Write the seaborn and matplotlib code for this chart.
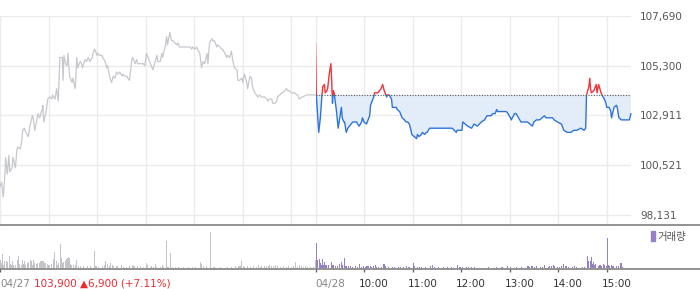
import numpy as np
import pandas as pd
import matplotlib
matplotlib.use("Agg")
import matplotlib.pyplot as plt
import seaborn as sns
from matplotlib.patches import Rectangle, Patch
from matplotlib.lines import Line2D
import matplotlib.transforms as mtransforms

# ---------------- data ----------------
prev_close = 103900
close_change = 6900
close_pct = 7.11

# 04/27 session: minutes since 09:00, price
day1_min = [0, 2, 4, 6, 7, 9, 11, 12, 15, 16, 19, 21, 22, 25, 27, 28, 30, 32, 35, 37,
            40, 41, 43, 46, 47, 49, 52, 53, 54, 57, 59, 62, 64, 65, 68, 70, 72, 73, 74, 77,
            78, 79, 81, 83, 84, 86, 89, 90, 93, 95, 96, 99, 101, 102, 105, 107, 109, 111, 114, 115,
            117, 120, 121, 123, 126, 127, 130, 132, 133, 136, 138, 140, 142, 144, 146, 148, 151, 152, 154, 157,
            158, 160, 163, 164, 167, 169, 170, 173, 177, 179, 181, 183, 185, 188, 189, 191, 194, 195, 198, 200,
            201, 204, 206, 207, 210, 212, 214, 216, 219, 220, 222, 225, 226, 228, 231, 232, 235, 237, 238, 241,
            243, 244, 247, 249, 251, 253, 256, 257, 259, 262, 263, 265, 268, 269, 272, 274, 275, 278, 280, 281,
            284, 286, 288, 290, 293, 294, 296, 299, 300, 302, 305, 306, 309, 311, 312, 315, 317, 319, 321, 323,
            325, 327, 330, 331, 333, 336, 337, 340, 342, 343, 346, 348, 349, 352, 354, 356, 358, 360, 362, 364,
            367, 368, 370, 373, 374, 379, 383, 390]
day1_price = [99500, 99700, 99000, 100000, 100900, 100100, 101000, 100200, 100400, 100900, 100400, 101300, 101400, 101300, 101700, 102200, 102300, 102100, 101900, 102400,
              102900, 102800, 102200, 102800, 103000, 102800, 103200, 103400, 102600, 103100, 103700, 103800, 103700, 103900, 103700, 104200, 103600, 104600, 105700, 105700,
              104600, 105800, 105400, 105300, 105900, 104800, 104500, 104700, 104200, 105700, 105200, 105500, 105400, 105200, 105600, 105500, 105700, 105500, 105700, 105900,
              106100, 105800, 105900, 105800, 105800, 105700, 105500, 105200, 105300, 104700, 104500, 104800, 104700, 105000, 104900, 105000, 104800, 104900, 104800, 104800,
              104700, 104600, 105600, 105700, 105400, 105600, 105400, 105400, 105400, 105300, 105900, 105700, 105500, 105200, 105100, 105400, 105800, 105500, 105500, 105900,
              105700, 106200, 106700, 106300, 106900, 106500, 106500, 106400, 106300, 106400, 106200, 106200, 106200, 106200, 106200, 106200, 106200, 106100, 106200, 106100,
              106200, 106100, 105900, 105200, 105500, 105400, 105900, 105400, 106400, 106600, 106500, 106500, 106200, 106300, 106200, 106100, 106100, 105900, 105700, 105800,
              105700, 106000, 105500, 105200, 105100, 104600, 104600, 104700, 104500, 104900, 104500, 104200, 104800, 104700, 104300, 104000, 103900, 103800, 103900, 103800,
              103800, 103800, 103700, 103600, 103700, 103700, 103500, 103500, 103600, 103800, 103900, 104000, 104000, 104100, 104200, 104100, 104100, 104000, 104000, 104000,
              103900, 103900, 103700, 103800, 103800, 103900, 103900, 103900]

# 04/28 session: minutes since 09:00, price
day2_min = [0, 1, 4, 6, 8, 9, 11, 12, 14, 15, 17, 19, 20, 21, 22, 23, 25, 26, 28, 30,
            32, 33, 35, 36, 38, 40, 42, 44, 46, 48, 51, 52, 54, 57, 58, 60, 63, 64, 67, 68,
            70, 72, 73, 75, 77, 79, 81, 83, 85, 88, 89, 91, 94, 95, 98, 100, 101, 104, 106, 107,
            110, 112, 114, 116, 118, 119, 122, 125, 126, 128, 131, 132, 135, 137, 138, 141, 145, 149, 153, 157,
            159, 162, 166, 169, 174, 175, 181, 182, 185, 188, 193, 196, 200, 205, 209, 212, 217, 219, 222, 224,
            225, 227, 231, 236, 238, 241, 242, 246, 248, 251, 254, 258, 262, 265, 268, 270, 273, 277, 280, 283,
            285, 289, 293, 295, 299, 304, 307, 311, 316, 319, 323, 328, 332, 334, 335, 338, 339, 340, 341, 344,
            347, 348, 350, 353, 354, 357, 359, 360, 363, 365, 366, 369, 372, 373, 375, 378, 379, 384, 388, 390]
day2_price = [106400, 103900, 102100, 102800, 103900, 104300, 104400, 104000, 104100, 104200, 104900, 105400, 104600, 103500, 104100, 104000, 103400, 103100, 102300, 102800,
              103300, 102800, 102600, 102600, 102100, 102300, 102400, 102500, 102600, 102600, 102600, 102500, 102400, 102600, 102800, 102600, 102500, 102600, 102900, 103400,
              103600, 103800, 104000, 104000, 104000, 104100, 104200, 104400, 104100, 103800, 103900, 103900, 103700, 103300, 103300, 103300, 103200, 103100, 102900, 102800,
              102700, 102600, 102600, 102500, 102200, 102000, 101900, 101800, 102000, 101900, 102000, 102100, 102000, 102100, 102100, 102300, 102300, 102300, 102300, 102300,
              102300, 102300, 102300, 102300, 102100, 102200, 102200, 102600, 102500, 102400, 102300, 102500, 102400, 102600, 102700, 102900, 102900, 103000, 103000, 103200,
              103100, 103100, 103100, 103100, 103000, 102800, 102700, 103000, 103000, 102800, 102600, 102600, 102600, 102500, 102400, 102600, 102700, 102700, 102800, 102900,
              102800, 102800, 102800, 102700, 102600, 102500, 102200, 102100, 102100, 102200, 102200, 102300, 102200, 102300, 103900, 104300, 104700, 104200, 104000, 104100,
              104400, 104000, 104400, 104000, 103900, 103700, 103500, 103300, 103300, 103100, 102800, 103300, 103400, 103300, 102800, 102700, 102700, 102700, 102700, 103000]

# volume (thousand shares), minutes since 09:00
vol1_min = [0, 1, 3, 4, 5, 7, 8, 9, 11, 12, 14, 15, 16, 19, 21, 22, 23, 26, 27, 28,
            30, 31, 33, 35, 37, 38, 40, 41, 42, 44, 46, 48, 49, 51, 52, 53, 55, 56, 58, 59,
            60, 63, 65, 66, 67, 69, 70, 72, 74, 75, 77, 78, 80, 81, 83, 84, 85, 86, 88, 90,
            93, 94, 96, 99, 103, 107, 111, 116, 118, 121, 126, 128, 130, 132, 135, 136, 138, 140, 144, 149,
            152, 156, 160, 163, 165, 169, 173, 177, 180, 182, 185, 187, 189, 192, 193, 198, 200, 202, 205, 207,
            210, 212, 216, 220, 226, 232, 237, 241, 247, 249, 251, 255, 260, 263, 265, 272, 280, 286, 290, 294,
            296, 298, 300, 302, 305, 309, 313, 317, 319, 321, 323, 326, 329, 331, 333, 335, 337, 340, 342, 346,
            350, 354, 356, 360, 362, 365, 367, 370, 372, 374, 377, 379, 383, 387, 389]
vol1_val = [8.3, 5, 14, 3.3, 6.7, 7.3, 6, 5, 11.7, 4, 3.3, 6.7, 2.7, 3.3, 8.3, 11.7, 4, 2.7, 7.7, 4,
            6.7, 2.7, 5, 6, 8.3, 6.7, 3.3, 8.3, 5, 4, 5, 5, 6.7, 7.3, 6.7, 7.3, 5, 3.3, 4, 2.7,
            3.3, 4, 9.3, 8.3, 16, 6.7, 3.3, 5, 24, 10, 5, 6, 6.7, 9.3, 10, 10.7, 10, 4, 2.7, 3.3,
            2.7, 8, 2.3, 2, 1.7, 2.3, 1.7, 17.3, 2.3, 1.3, 1.7, 3.3, 7.3, 4, 2.3, 5, 2.7, 1.7, 1.7, 2.7,
            1.3, 1.3, 2, 3.3, 1.7, 2, 1.7, 1.3, 5.3, 2.7, 1.3, 2.3, 1.3, 4, 1.3, 1.3, 3.3, 1.3, 27.3, 1.3,
            15, 1.3, 1, 1.3, 1, 1.3, 1.3, 1.3, 6, 4, 2, 1.7, 36, 1.3, 1, 1.3, 1, 1.3, 1.7, 2.3,
            1.7, 7, 2, 1.3, 2.3, 1.3, 1.7, 1.3, 3, 1.3, 2.3, 1.7, 2, 1.7, 2.7, 2, 2.3, 3.3, 1.7, 1.3,
            1.7, 1.3, 2.3, 1.3, 1.7, 6, 1.3, 3.3, 2, 1.3, 2, 1.3, 1.3, 1, 8]

vol2_min = [0, 1, 2, 4, 5, 7, 8, 9, 10, 12, 13, 15, 16, 19, 21, 22, 24, 26, 29, 31,
            33, 35, 36, 38, 40, 43, 45, 49, 51, 54, 56, 59, 61, 63, 65, 67, 69, 71, 73, 75,
            77, 81, 84, 86, 90, 94, 97, 102, 105, 108, 112, 114, 116, 120, 122, 125, 128, 130, 135, 141,
            144, 147, 151, 158, 162, 168, 175, 178, 181, 186, 189, 192, 196, 213, 223, 229, 231, 237, 240, 248,
            254, 262, 264, 266, 268, 270, 273, 277, 280, 283, 287, 289, 291, 293, 295, 299, 301, 304, 306, 309,
            312, 317, 320, 322, 329, 332, 335, 336, 337, 339, 341, 342, 343, 344, 345, 346, 349, 351, 353, 355,
            357, 359, 360, 361, 363, 365, 367, 368, 372, 374, 376, 377, 379, 390]
vol2_val = [25, 11.7, 8.3, 9.3, 5, 3.3, 9, 3.3, 6, 2.7, 3.3, 2.7, 2.7, 6, 2.7, 2.3, 2.3, 2.3, 4, 6,
            2.7, 10, 2.3, 2, 1.7, 2.3, 1, 1.7, 1.3, 4, 1.3, 1.7, 1.3, 2, 1.7, 2, 1.3, 2, 2.7, 1.3,
            1, 1.3, 4, 1.7, 1.3, 1.3, 1, 1, 1.3, 1, 1.7, 1.3, 1, 5, 1.7, 1.3, 1, 1.3, 1, 1.7,
            3, 1.3, 1, 1.3, 1, 1, 3, 1.3, 1.3, 1, 1.3, 1.3, 1.3, 1.3, 1.3, 1.3, 1, 2, 1.3, 1.3,
            1, 1.7, 1.3, 2, 1.7, 1.3, 2, 1, 1.3, 3, 1.3, 1.7, 2.3, 3.3, 2, 1.3, 1.3, 2, 4.3, 1.7,
            1.3, 1.3, 2.3, 1.3, 1.3, 1.3, 2, 12, 6.7, 6.7, 11, 4, 6, 3.3, 4, 2.7, 2, 3.3, 2, 4,
            3.3, 2, 30, 2.7, 2, 3.3, 1.7, 2, 1.7, 2, 2.7, 5, 1.3, 7]

y_ticks = [98131, 100521, 102911, 105300, 107690]
x_labels = ["04/27", "04/28", "10:00", "11:00", "12:00", "13:00", "14:00", "15:00"]
legend_label = "거래량"

# ---------------- style ----------------
sns.set_style("white")
plt.rcParams['font.family'] = ['DejaVu Sans', 'Noto Sans CJK KR']

GRAY_LINE = "#c6c8cd"
RED = "#f2333a"
BLUE = "#2f74d8"
FILL = "#e3ecf9"
GRID = "#ebebeb"
VOL1 = "#c2c4c9"
VOL2 = "#9580c6"
TXT = "#555555"

session = 390
d1x = np.array(day1_min, dtype=float)
d1y = np.array(day1_price, dtype=float)
d2x = np.array(day2_min, dtype=float) + session
d2y = np.array(day2_price, dtype=float)

W, H = 700, 289
fig = plt.figure(figsize=(W / 100, H / 100), dpi=100)
fig.patch.set_facecolor("white")

def fx(px):
    return px / W
def fy(py):
    return 1 - py / H

ax_w = fx(631)
ax = fig.add_axes([0, fy(225), ax_w, fy(16) - fy(225)])
axv = fig.add_axes([0, fy(268), ax_w, fy(225) - fy(268)])

xmax = 2 * session
ylo = 107690 - (225 - 16) * (107690 - 98131) / (215 - 16)
ax.set_xlim(0, xmax)
ax.set_ylim(ylo, 107690)

# grid
grid_x = [0] + [60 * k for k in range(1, 7)] + [session + 60 * k for k in range(0, 7)]
ax.set_xticks(grid_x)
ax.set_xticklabels([])
ax.set_yticks(y_ticks)
ax.set_yticklabels([f"{v:,}" for v in y_ticks])
ax.grid(True, color=GRID, lw=1.0)
ax.tick_params(axis="x", length=0)
ax.tick_params(axis="y", length=0, labelsize=7.5, labelcolor=TXT, pad=6.5,
               left=False, labelleft=False, right=False, labelright=True)
for s in ax.spines.values():
    s.set_visible(False)
ax.set_axisbelow(True)

# day 1 line
df1 = pd.DataFrame({"t": d1x, "p": d1y})
sns.lineplot(data=df1, x="t", y="p", ax=ax, color=GRAY_LINE, lw=0.9, sort=False)

# fill below previous close
ax.fill_between(d2x, d2y, prev_close, where=d2y <= prev_close, interpolate=True,
                color=FILL, lw=0, zorder=1.5)

# day 2 line: red above prev close, blue below
df2 = pd.DataFrame({"t": d2x, "p": d2y})
sns.lineplot(data=df2, x="t", y="p", ax=ax, color=RED, lw=1.0, sort=False)
red_line = ax.lines[-1]
red_line.set_clip_path(Rectangle((session, prev_close), session + 10, 20000,
                                 transform=ax.transData))
sns.lineplot(data=df2, x="t", y="p", ax=ax, color=BLUE, lw=1.0, sort=False)
blue_line = ax.lines[-1]
blue_line.set_clip_path(Rectangle((session, prev_close - 20000), session + 10, 20000,
                                  transform=ax.transData))

ax.hlines(prev_close, session, xmax, colors="#555555", linestyles=(0, (1, 1.4)), lw=0.8, zorder=3)
ax.set_xlabel("")
ax.set_ylabel("")

# volume
axv.set_xlim(0, xmax)
axv.set_ylim(0, 43)
axv.bar(np.array(vol1_min, dtype=float), vol1_val, width=1.3, color=VOL1, lw=0,
        align="edge", antialiased=False)
axv.bar(np.array(vol2_min, dtype=float) + session, vol2_val, width=1.3, color=VOL2, lw=0,
        align="edge", antialiased=False)
for s in axv.spines.values():
    s.set_visible(False)
axv.set_yticks([])
tick_pos = [0, session] + [session + 60 * k for k in range(1, 7)]
axv.set_xticks(tick_pos)
axv.set_xticklabels(x_labels)
axv.tick_params(axis="x", direction="out", length=3, width=1, color="#666666",
                labelsize=7.5, pad=5, bottom=True)
for i, lab in enumerate(axv.get_xticklabels()):
    lab.set_ha("left")
    if i < 2:
        lab.set_color("#888888")
    else:
        lab.set_color("#333333")
        off = mtransforms.ScaledTranslation(-5 / 100, 0, fig.dpi_scale_trans)
        lab.set_transform(lab.get_transform() + off)

# separator and baseline across the full width
fig.add_artist(Line2D([0, 1], [fy(225), fy(225)], transform=fig.transFigure,
                      color="#8a8a8a", lw=1.3))
fig.add_artist(Line2D([0, 1], [fy(268.5), fy(268.5)], transform=fig.transFigure,
                      color="#8a8a8a", lw=1.3))

# close info next to 04/27
fig.text(fx(34), fy(283.5), f"{prev_close:,} \u25b2{close_change:,} (+{close_pct:.2f}%)",
         color="#f0282d", fontsize=7.5, va="center", ha="left")

# legend
axv.legend(handles=[Patch(color=VOL2, label=legend_label)], loc="upper right",
           bbox_to_anchor=(fx(686), fy(231)), bbox_transform=fig.transFigure,
           frameon=False, handlelength=0.35, handleheight=1.1, handletextpad=0.25,
           fontsize=7.5, labelcolor="#555555", borderpad=0, borderaxespad=0)

fig.savefig("out.png", dpi=100, facecolor="white")
